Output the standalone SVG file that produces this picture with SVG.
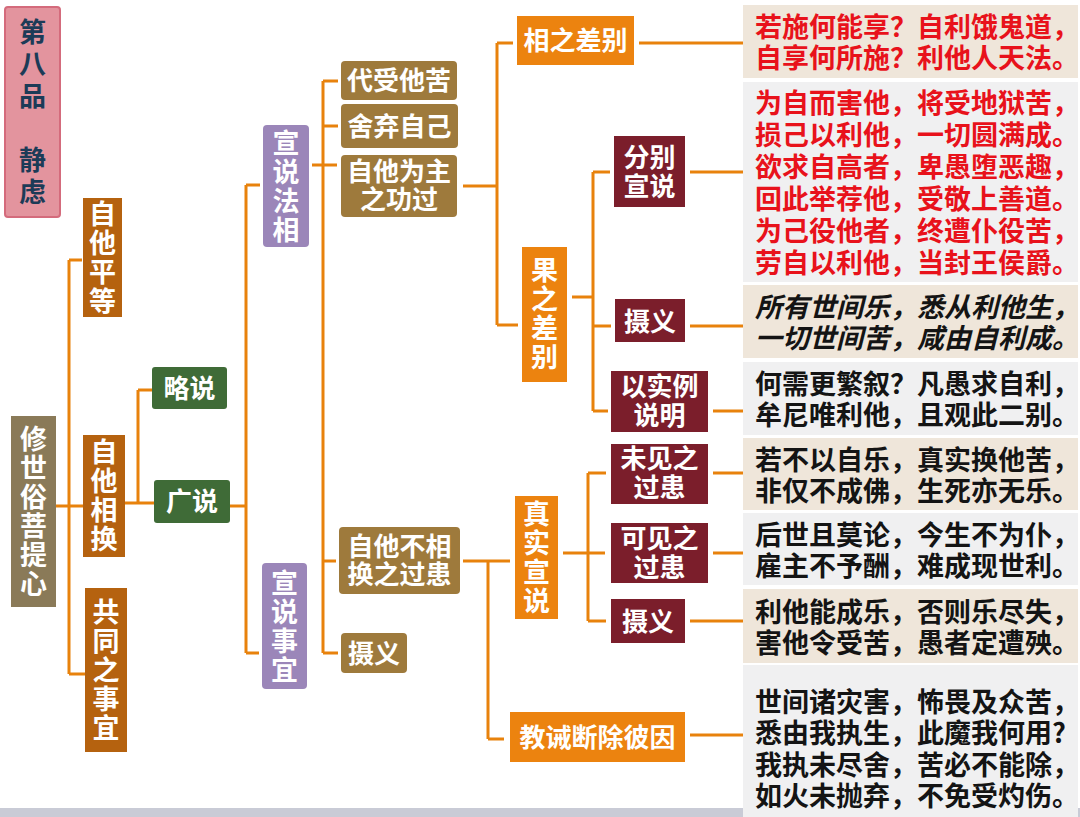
<svg xmlns="http://www.w3.org/2000/svg" width="1080" height="817" viewBox="0 0 1080 817">
<style>
.c{fill:none;stroke:#E8820C;stroke-width:3}
.t{font-family:"Noto Sans CJK SC","Microsoft YaHei",sans-serif;font-weight:700}
.w{fill:#fff;font-size:26px;text-anchor:middle}
.v{fill:#fff;font-size:27px;writing-mode:vertical-rl;letter-spacing:2px}
.p{font-size:27px}
.red{fill:#E8121B}
.blk{fill:#141414}
.it{font-style:italic}
.ob{fill:#B5620F}
.gr{fill:#3F6B37}
.pu{fill:#9B86B9}
.br{fill:#9E7A3C}
.or{fill:#EC830F}
.dr{fill:#7B1E2B}
.bg{fill:#EFE6DA}
.gy{fill:#F0F0F1}
</style>
<rect x="0" y="0" width="1080" height="817" fill="#fff"/>
<rect x="0" y="808" width="1080" height="9" fill="#C9CBD6"/>

<g id="connectors">
<path class="c" d="M56,506H69M69,260V674M69,260H82M69,506H83M69,674H85"/>
<path class="c" d="M125,503H138M138,390V503M138,390H152M138,503H154"/>
<path class="c" d="M230,506H246M246,185V653M246,185H260M246,653H259"/>
<path class="c" d="M312,165H337M323,81V653M323,81H338M323,126H338M323,561H336M323,653H338"/>
<path class="c" d="M463,186H497M497,43V325M497,43H513M497,325H518"/>
<path class="c" d="M639,43H743"/>
<path class="c" d="M572,297H593M593,172V411M593,172H610M593,326H611M593,411H608"/>
<path class="c" d="M690,172H743M690,326H743M713,411H743"/>
<path class="c" d="M463,561H510M488,561V739M488,739H504"/>
<path class="c" d="M563,553H605M588,473V621M588,473H606M588,621H606"/>
<path class="c" d="M713,473H743M713,553H743M690,621H743M690,735H743"/>
</g>

<g id="title">
<rect x="5" y="7" width="55" height="210" rx="3" fill="#E3949E" stroke="#D46B7C" stroke-width="2"/>
<text class="t" x="32.5" y="18.5" font-size="27" fill="#1C3B57" style="writing-mode:vertical-rl;letter-spacing:5px">第八品　静虑</text>
</g>

<g id="root">
<rect x="11" y="416" width="45" height="191" fill="#8A7A58"/>
<text class="t v" x="33.5" y="425.5">修世俗菩提心</text>
</g>

<g id="n-zitapingdeng">
<rect class="ob" x="83" y="198" width="39" height="119"/>
<text class="t v" x="102.5" y="200.5">自他平等</text>
</g>

<g id="n-zitaxianghuan">
<rect class="ob" x="83" y="435" width="42" height="122"/>
<text class="t v" x="104" y="438.5">自他相换</text>
</g>

<g id="n-gongtong">
<rect class="ob" x="85" y="588" width="42" height="164"/>
<text class="t v" x="106" y="598.5">共同之事宜</text>
</g>

<g id="n-lueshuo">
<rect class="gr" x="152" y="367" width="75" height="42" rx="3"/>
<text class="t w" x="189.5" y="398">略说</text>
</g>

<g id="n-guangshuo">
<rect class="gr" x="154" y="480" width="76" height="43" rx="3"/>
<text class="t w" x="192" y="511">广说</text>
</g>

<g id="n-xuanshuofaxiang">
<rect class="pu" x="263" y="125" width="46" height="122" rx="4"/>
<text class="t v" x="286" y="129">宣说法相</text>
</g>

<g id="n-xuanshuoshiyi">
<rect class="pu" x="262" y="563" width="45" height="126" rx="4"/>
<text class="t v" x="284.5" y="569">宣说事宜</text>
</g>

<g id="n-daishou">
<rect class="br" x="341" y="61" width="116" height="39" rx="4"/>
<text class="t w" x="399" y="90">代受他苦</text>
</g>

<g id="n-sheqi">
<rect class="br" x="341" y="104" width="117" height="44" rx="4"/>
<text class="t w" x="399.5" y="136">舍弃自己</text>
</g>

<g id="n-zitaweizhu">
<rect class="br" x="341" y="155" width="116" height="62" rx="4"/>
<text class="t w"><tspan x="399" y="181">自他为主</tspan><tspan x="399" y="209">之功过</tspan></text>
</g>

<g id="n-buxianghuan">
<rect class="br" x="339" y="527" width="121" height="67" rx="4"/>
<text class="t w"><tspan x="399.5" y="556">自他不相</tspan><tspan x="399.5" y="584">换之过患</tspan></text>
</g>

<g id="n-sheyi1">
<rect class="br" x="341" y="633" width="66" height="40" rx="4"/>
<text class="t w" x="374" y="663">摄义</text>
</g>

<g id="n-xiangzhichabie">
<rect class="or" x="517" y="16" width="117" height="49"/>
<text class="t w" x="575.5" y="50">相之差别</text>
</g>

<g id="n-guozhichabie">
<rect class="or" x="522" y="247" width="45" height="135"/>
<text class="t v" x="544.5" y="256.5">果之差别</text>
</g>

<g id="n-zhenshi">
<rect class="or" x="515" y="496" width="43" height="123"/>
<text class="t v" x="536.5" y="500.5">真实宣说</text>
</g>

<g id="n-jiaojie">
<rect class="or" x="510" y="712" width="175" height="50"/>
<text class="t w" x="597.5" y="747">教诫断除彼因</text>
</g>

<g id="n-fenbie">
<rect class="dr" x="614" y="136" width="71" height="71"/>
<text class="t w"><tspan x="649.5" y="167">分别</tspan><tspan x="649.5" y="196">宣说</tspan></text>
</g>

<g id="n-sheyi2">
<rect class="dr" x="615" y="299" width="70" height="43"/>
<text class="t w" x="650" y="330.5">摄义</text>
</g>

<g id="n-yishili">
<rect class="dr" x="611" y="371" width="97" height="61"/>
<text class="t w"><tspan x="659.5" y="396">以实例</tspan><tspan x="659.5" y="425">说明</tspan></text>
</g>

<g id="n-weijian">
<rect class="dr" x="611" y="444" width="97" height="60"/>
<text class="t w"><tspan x="659.5" y="468">未见之</tspan><tspan x="659.5" y="497">过患</tspan></text>
</g>

<g id="n-kejian">
<rect class="dr" x="611" y="523" width="97" height="60"/>
<text class="t w"><tspan x="659.5" y="548">可见之</tspan><tspan x="659.5" y="577">过患</tspan></text>
</g>

<g id="n-sheyi3">
<rect class="dr" x="611" y="599" width="74" height="44"/>
<text class="t w" x="648" y="631">摄义</text>
</g>

<g id="panel1">
<rect class="bg" x="743" y="5" width="335" height="73"/>
<text class="t p red"><tspan x="755" y="37">若施何能享？自利饿鬼道，</tspan><tspan x="755" y="68">自享何所施？利他人天法。</tspan></text>
</g>

<g id="panel2">
<rect class="gy" x="743" y="82" width="335" height="200"/>
<text class="t p red"><tspan x="755" y="113">为自而害他，将受地狱苦，</tspan><tspan x="755" y="145">损己以利他，一切圆满成。</tspan><tspan x="755" y="177">欲求自高者，卑愚堕恶趣，</tspan><tspan x="755" y="209">回此举荐他，受敬上善道。</tspan><tspan x="755" y="241">为己役他者，终遭仆役苦，</tspan><tspan x="755" y="273">劳自以利他，当封王侯爵。</tspan></text>
</g>

<g id="panel3">
<rect class="bg" x="743" y="285" width="335" height="73"/>
<text class="t p blk it"><tspan x="755" y="317">所有世间乐，悉从利他生，</tspan><tspan x="755" y="348">一切世间苦，咸由自利成。</tspan></text>
</g>

<g id="panel4">
<rect class="gy" x="743" y="362" width="335" height="73"/>
<text class="t p blk"><tspan x="755" y="394">何需更繁叙？凡愚求自利，</tspan><tspan x="755" y="425">牟尼唯利他，且观此二别。</tspan></text>
</g>

<g id="panel5">
<rect class="bg" x="743" y="438" width="335" height="72"/>
<text class="t p blk"><tspan x="755" y="469.5">若不以自乐，真实换他苦，</tspan><tspan x="755" y="500.5">非仅不成佛，生死亦无乐。</tspan></text>
</g>

<g id="panel6">
<rect class="gy" x="743" y="513" width="335" height="72"/>
<text class="t p blk"><tspan x="755" y="544.5">后世且莫论，今生不为仆，</tspan><tspan x="755" y="575.5">雇主不予酬，难成现世利。</tspan></text>
</g>

<g id="panel7">
<rect class="bg" x="743" y="589" width="335" height="74"/>
<text class="t p blk"><tspan x="755" y="621.5">利他能成乐，否则乐尽失，</tspan><tspan x="755" y="652.5">害他令受苦，愚者定遭殃。</tspan></text>
</g>

<g id="panel8">
<rect class="gy" x="743" y="665" width="335" height="152"/>
<text class="t p blk"><tspan x="755" y="712">世间诸灾害，怖畏及众苦，</tspan><tspan x="755" y="743">悉由我执生，此魔我何用?</tspan><tspan x="755" y="775">我执未尽舍，苦必不能除，</tspan><tspan x="755" y="806">如火未抛弃，不免受灼伤。</tspan></text>
</g>
</svg>
